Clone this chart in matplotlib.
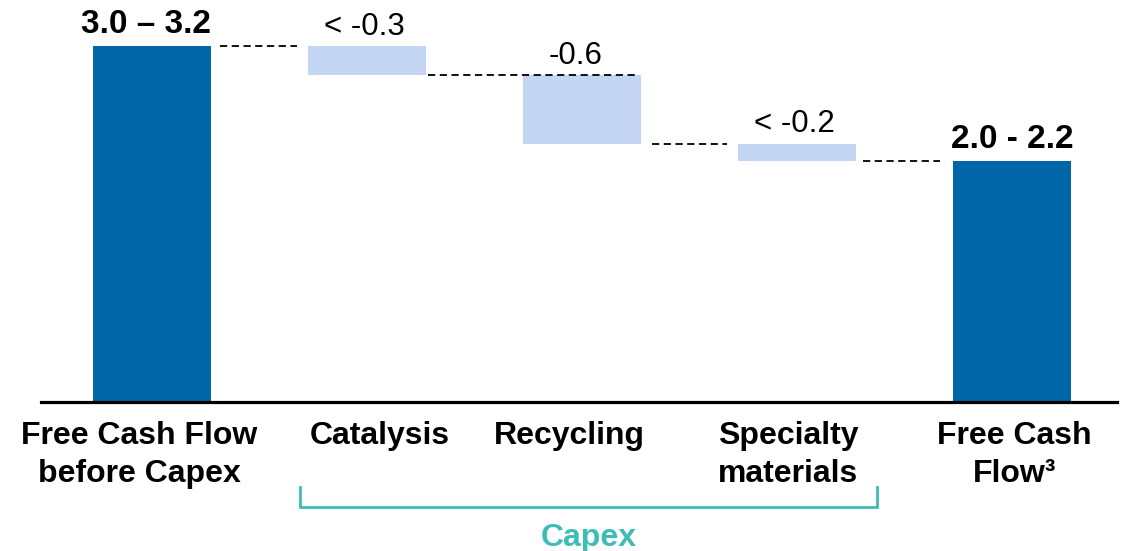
import matplotlib.pyplot as plt

plt.rcParams['font.family'] = ['Liberation Sans', 'DejaVu Sans']

# bridge from free cash flow before capex to free cash flow (EUR bn)
categories = ['Free Cash Flow\nbefore Capex', 'Catalysis', 'Recycling',
              'Specialty\nmaterials', 'Free Cash\nFlow\u00b3']
start_value = 3.1
capex_steps = [-0.25, -0.6, -0.15]
end_value = 2.1
value_labels = ['3.0 \u2013 3.2', '< -0.3', '-0.6', '< -0.2', '2.0 - 2.2']

DARK = '#0066a8'
LIGHT = '#c3d5f3'
TEAL = '#3dbdb5'
W = 0.55

fig = plt.figure(figsize=(11.24, 5.51), dpi=100)
ax = fig.add_axes([41 / 1124, 149 / 551, 1076 / 1124, 402 / 551])

# running levels
levels = [start_value]
for s in capex_steps:
    levels.append(levels[-1] + s)

bottoms = [0]
heights = [start_value]
for i, s in enumerate(capex_steps):
    bottoms.append(levels[i + 1])
    heights.append(-s)
bottoms.append(0)
heights.append(end_value)
colors = [DARK] + [LIGHT] * len(capex_steps) + [DARK]

x = list(range(len(categories)))
ax.bar(x, heights, bottom=bottoms, width=W, color=colors, edgecolor='none')

# dashed connectors between consecutive bars
conn_end = [1 - W / 2 - 0.05, 2 + W / 2 - 0.01, 3 - W / 2 - 0.05, 4 - W / 2 - 0.06]
conn_start = [W / 2 + 0.04, 1 + W / 2 + 0.01, 2 + W / 2 + 0.05, 3 + W / 2 + 0.03]
conn_level = [levels[0], levels[1], levels[2], levels[3]]
for x0, x1, y in zip(conn_start, conn_end, conn_level):
    ax.plot([x0, x1], [y, y], color='black', lw=1.3, ls=(0, (4, 2.5)))

# value labels above the bars
tops = [b + h for b, h in zip(bottoms, heights)]
label_dx = [-0.03, -0.01, -0.03, -0.01, 0.0]
for i, (t, lab) in enumerate(zip(tops, value_labels)):
    bold = i in (0, len(categories) - 1)
    gap = 9 if bold else 8
    ax.annotate(lab, (i + label_dx[i], t), xytext=(0, gap), textcoords='offset points',
                ha='center', va='baseline', fontsize=24 if bold else 22.5,
                fontweight='bold' if bold else 'normal')

ax.set_xlim(-0.516, 4.488)
ax.set_ylim(0, 3.5)
for sp in ['top', 'right', 'left']:
    ax.spines[sp].set_visible(False)
ax.spines['bottom'].set_linewidth(2.3)
ax.set_yticks([])
ax.set_xticks([])

# category labels under the axis
cat_dx = [-0.06, 0.06, -0.06, -0.04, 0.01]
for i, c in enumerate(categories):
    ax.text(i + cat_dx[i], -0.165, c, ha='center', va='top', fontsize=23,
            fontweight='bold', linespacing=1.36)

# capex bracket
bx0, bx1 = 0.69, 3.37
ax.plot([bx0, bx0, bx1, bx1], [-0.74, -0.91, -0.91, -0.74], color=TEAL, lw=2,
        clip_on=False, solid_joinstyle='miter')
ax.text((bx0 + bx1) / 2, -1.05, 'Capex', ha='center', va='top', fontsize=23,
        fontweight='bold', color=TEAL)

fig.savefig('out.png', dpi=100)
